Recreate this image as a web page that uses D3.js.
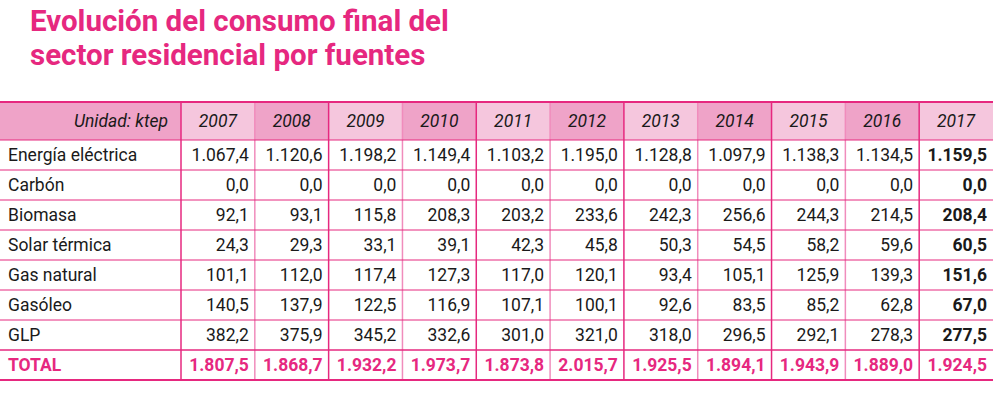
<!DOCTYPE html>
<html><head><meta charset="utf-8">
<script src="https://cdn.jsdelivr.net/npm/d3@7"></script>
<style>body{margin:0;background:#fff}svg{font-family:Roboto,sans-serif}</style>
</head><body><svg width="993" height="407"></svg>
<script>
//? DATA
const years = ['2007','2008','2009','2010','2011','2012','2013','2014','2015','2016','2017']
const sources = ['Energía eléctrica','Carbón','Biomasa','Solar térmica','Gas natural','Gasóleo','GLP']
const values = [
  ['1.067,4','1.120,6','1.198,2','1.149,4','1.103,2','1.195,0','1.128,8','1.097,9','1.138,3','1.134,5','1.159,5'],
  ['0,0','0,0','0,0','0,0','0,0','0,0','0,0','0,0','0,0','0,0','0,0'],
  ['92,1','93,1','115,8','208,3','203,2','233,6','242,3','256,6','244,3','214,5','208,4'],
  ['24,3','29,3','33,1','39,1','42,3','45,8','50,3','54,5','58,2','59,6','60,5'],
  ['101,1','112,0','117,4','127,3','117,0','120,1','93,4','105,1','125,9','139,3','151,6'],
  ['140,5','137,9','122,5','116,9','107,1','100,1','92,6','83,5','85,2','62,8','67,0'],
  ['382,2','375,9','345,2','332,6','301,0','321,0','318,0','296,5','292,1','278,3','277,5']
]
const totals = ['1.807,5','1.868,7','1.932,2','1.973,7','1.873,8','2.015,7','1.925,5','1.894,1','1.943,9','1.889,0','1.924,5']

const pink = '#e6287f', light = '#f5c6dd', dark = '#efa3c8'
const fs = 17.5
const svg = d3.select('svg')

svg.selectAll('text.title').data(['Evolución del consumo final del','sector residencial por fuentes'])
  .enter().append('text').attr('x', 30).attr('y', (d, i) => 31 + i * 34)
  .attr('font-size', 29.5).attr('font-weight', 700).attr('fill', pink).text(d => d)

const x = d3.scaleBand().domain(years).range([181, 993])
const headTop = 102, headBot = 140
const rows = [...sources, 'TOTAL']
const y = d3.scaleBand().domain(rows).range([headBot, 380])
const hh = y.bandwidth()
const headH = headBot - headTop

// header
svg.append('rect').attr('x', 0).attr('y', headTop).attr('width', 181).attr('height', headH).attr('fill', dark)
svg.selectAll('rect.h').data(years).enter().append('rect')
  .attr('x', d => x(d)).attr('y', headTop).attr('width', x.bandwidth()).attr('height', headH)
  .attr('fill', (d, i) => i % 2 ? dark : light)
svg.append('text').attr('x', 168).attr('y', headTop + headH / 2 + 6).attr('text-anchor', 'end')
  .attr('font-size', fs).attr('font-style', 'italic').attr('fill', '#1a1a1a').text('Unidad: ktep')
svg.selectAll('text.h').data(years).enter().append('text')
  .attr('x', d => x(d) + x.bandwidth() / 2).attr('y', headTop + headH / 2 + 6).attr('text-anchor', 'middle')
  .attr('font-size', fs).attr('font-style', 'italic').attr('fill', '#1a1a1a').text(d => d)

// body
const body = sources.map((s, i) => ({ name: s, vals: values[i], total: false }))
body.push({ name: 'TOTAL', vals: totals, total: true })
const g = svg.selectAll('g.row').data(body).enter().append('g')
  .attr('transform', d => `translate(0,${y(d.name)})`)
g.append('text').attr('x', 8).attr('y', hh / 2 + 6).attr('font-size', fs)
  .attr('fill', d => d.total ? pink : '#1a1a1a').attr('font-weight', d => d.total ? 700 : 400).text(d => d.name)
g.selectAll('text.v').data(d => d.vals.map((v, i) => ({ v, yr: years[i], total: d.total })))
  .enter().append('text')
  .attr('x', d => x(d.yr) + x.bandwidth() - 6).attr('y', hh / 2 + 6).attr('text-anchor', 'end')
  .attr('font-size', fs)
  .attr('font-weight', d => d.total || d.yr === '2017' ? 700 : 400)
  .attr('fill', d => d.total ? pink : '#1a1a1a').text(d => d.v)

// grid
svg.selectAll('line.v').data(years).enter().append('line')
  .attr('x1', d => x(d)).attr('x2', d => x(d)).attr('y1', headTop).attr('y2', 380)
  .attr('stroke', (d, i) => i % 2 ? '#f08cbc' : pink).attr('stroke-width', 1.5)
svg.selectAll('line.h').data(rows).enter().append('line')
  .attr('x1', 0).attr('x2', 993).attr('y1', d => y(d)).attr('y2', d => y(d))
  .attr('stroke', pink).attr('stroke-width', d => d === 'TOTAL' ? 1.5 : 1)
svg.append('line').attr('x1', 0).attr('x2', 993).attr('y1', headTop).attr('y2', headTop).attr('stroke', pink).attr('stroke-width', 2)
svg.append('line').attr('x1', 0).attr('x2', 993).attr('y1', 380).attr('y2', 380).attr('stroke', pink).attr('stroke-width', 2)
</script></body></html>
